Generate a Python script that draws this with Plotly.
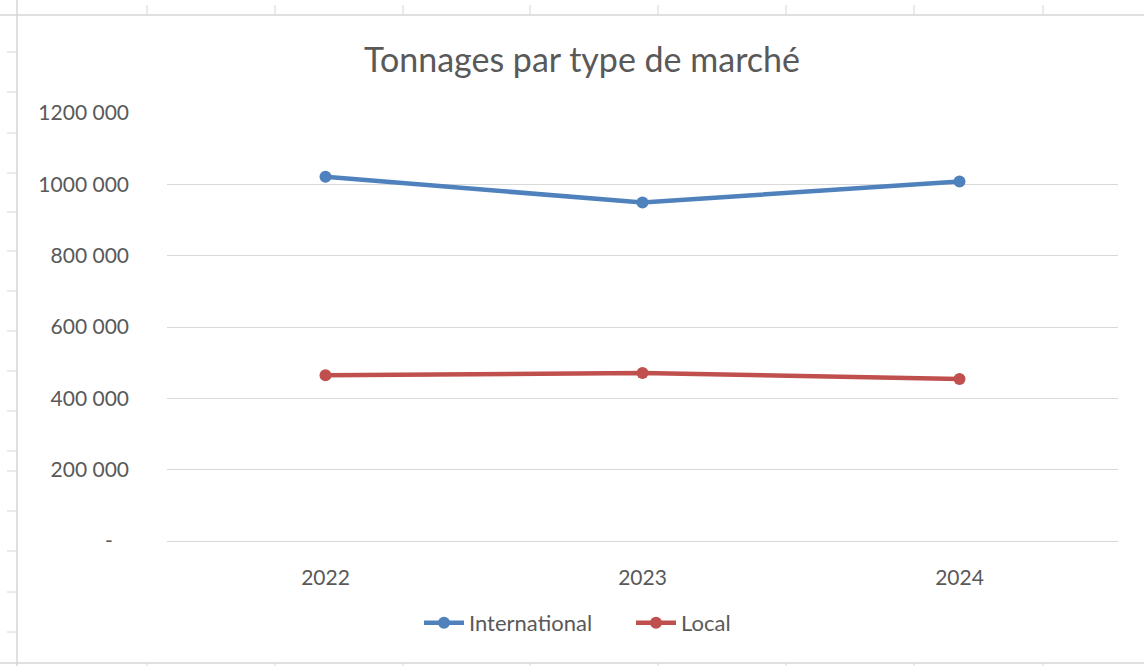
import plotly.graph_objects as go

years = ["2022", "2023", "2024"]
international = [1021000, 949000, 1008000]
local = [465000, 471000, 454000]
series_names = ["International", "Local"]
y_tickvals = [0, 200000, 400000, 600000, 800000, 1000000, 1200000]
y_ticktext = ["-\u00a0\u00a0\u00a0", "200 000", "400 000", "600 000", "800 000", "1000 000", "1200 000"]

W, H = 1144, 666
L, R, T, B = 167, 1118, 113, 541
FONT = "Lato"
GREY = "#595959"
GRID = "#D9D9D9"
FRAME = "#D6D6D6"

fig = go.Figure()
fig.add_trace(go.Scatter(x=years, y=international, name=series_names[0], mode="lines+markers",
                         line=dict(color="#4F81BD", width=4.5),
                         marker=dict(color="#4F81BD", size=12)))
fig.add_trace(go.Scatter(x=years, y=local, name=series_names[1], mode="lines+markers",
                         line=dict(color="#C0504D", width=4.5),
                         marker=dict(color="#C0504D", size=12)))

# spreadsheet frame (decoration) in pixel -> paper coords
def px(x):
    return (x - L) / (R - L)

def py(y):
    return (B - y) / (B - T)

shapes = []
line_style = dict(color=FRAME, width=1.5)
shapes.append(dict(type="line", xref="paper", yref="paper", x0=px(0), x1=px(W), y0=py(15), y1=py(15), line=line_style, layer="below"))
shapes.append(dict(type="line", xref="paper", yref="paper", x0=px(0), x1=px(W), y0=py(663), y1=py(663), line=line_style, layer="below"))
shapes.append(dict(type="line", xref="paper", yref="paper", x0=px(17), x1=px(17), y0=py(0), y1=py(H), line=line_style, layer="below"))
for cx in [147, 275, 403, 530, 658, 786, 914, 1043]:
    shapes.append(dict(type="line", xref="paper", yref="paper", x0=px(cx), x1=px(cx), y0=py(5), y1=py(15), line=dict(color=FRAME, width=1), layer="below"))
    shapes.append(dict(type="line", xref="paper", yref="paper", x0=px(cx), x1=px(cx), y0=py(663), y1=py(H), line=dict(color=FRAME, width=1), layer="below"))
for ry in [52, 92, 133, 173, 212, 251, 291, 331, 371, 411, 451, 471, 511, 551, 592, 632]:
    shapes.append(dict(type="line", xref="paper", yref="paper", x0=px(7), x1=px(17), y0=py(ry), y1=py(ry), line=dict(color=FRAME, width=1), layer="below"))

fig.update_layout(
    width=W, height=H,
    margin=dict(l=L, r=W - R, t=T, b=H - B),
    paper_bgcolor="white", plot_bgcolor="white",
    font=dict(family=FONT, color=GREY, size=21),
    title=dict(text="Tonnages par type de marché", x=582 / W, xref="container", xanchor="center",
               y=1 - 60 / H, yref="container", yanchor="middle",
               font=dict(family=FONT, size=34, color=GREY)),
    showlegend=True,
    legend=dict(orientation="h", xref="container", yref="container", x=631 / W, xanchor="center",
                y=1 - 623 / H, yanchor="middle", font=dict(size=22, color=GREY),
                bgcolor="rgba(0,0,0,0)", itemwidth=40, tracegroupgap=0, entrywidth=157),
    shapes=shapes,
)
fig.update_xaxes(type="category", showgrid=False, showline=True, linecolor=GRID, linewidth=1.3,
                 ticks="", tickfont=dict(size=21, color=GREY), ticklabelstandoff=18,
                 range=[-0.5, 2.5], zeroline=False)
fig.update_yaxes(range=[0, 1200000], tickvals=y_tickvals, ticktext=y_ticktext,
                 showgrid=True, gridcolor=GRID, gridwidth=1.3, zeroline=False, showline=False,
                 ticks="", tickfont=dict(size=21, color=GREY), ticklabelstandoff=37)

fig.write_html("out.html", config={"displayModeBar": False},
               post_script="document.body.style.margin='0';document.body.style.padding='0';")
